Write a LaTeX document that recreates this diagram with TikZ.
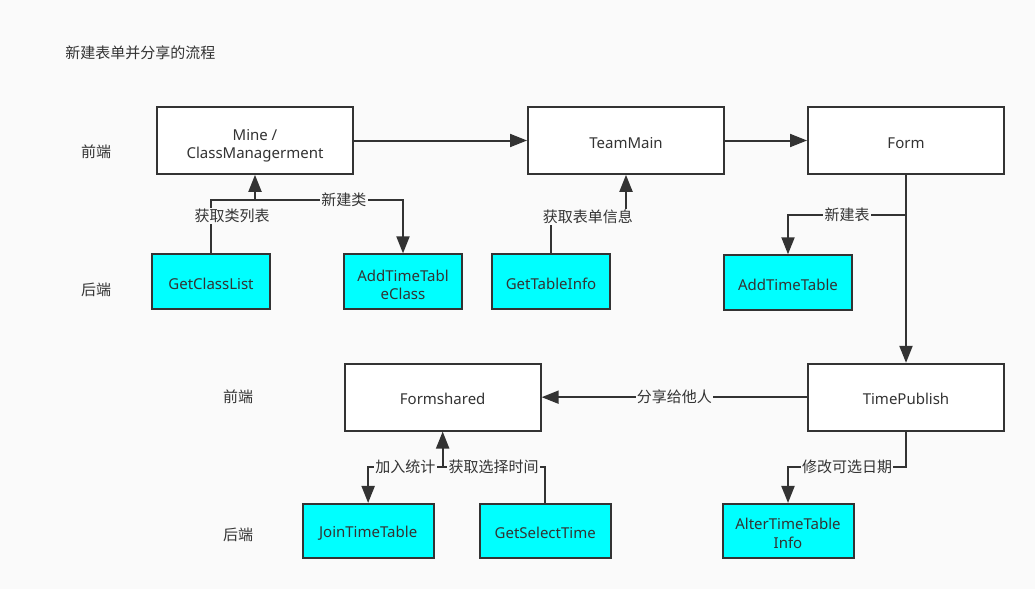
\documentclass[tikz,border=0pt]{standalone}
\usepackage{fontspec}
\setmainfont{Noto Sans}
\newfontfamily\cjk{Noto Sans CJK SC}
\usepackage{tikz}
\usetikzlibrary{arrows.meta, positioning}
\definecolor{pagebg}{RGB}{250,250,250}
\definecolor{linegray}{RGB}{51,51,51}
\definecolor{textgray}{RGB}{51,51,51}
\definecolor{apicyan}{RGB}{0,255,255}

\begin{document}
\begin{tikzpicture}[x=0.75pt, y=-0.75pt,
    font=\fontsize{11.25pt}{14pt}\selectfont,
    lift/.style={execute at begin node={\rule{0pt}{#1}}},
    box/.style={rectangle, draw=linegray, line width=1.5pt, fill=white, text=textgray, align=center, inner sep=0pt, minimum width=147pt, minimum height=50pt, lift=11.5pt},
    api/.style={box, fill=apicyan, minimum width=88.5pt, minimum height=41.25pt},
    wire/.style={draw=linegray, line width=1.5pt},
    link/.style={wire, -{Triangle[length=12.75pt, width=9.75pt]}},
    tag/.style={font=\cjk\fontsize{11.25pt}{14pt}\selectfont, fill=pagebg, text=textgray, inner sep=1pt},
    side/.style={font=\cjk\fontsize{11.25pt}{14pt}\selectfont, text=textgray, inner sep=0pt}]
    \fill[pagebg] (0,0) rectangle (1035,589);%background and page size
    \node (title) [side, anchor=west] at (65,53) {新建表单并分享的流程};%draws title
    \node (front1) [side] at (96,152) {前端};%upper front label
    \node (back1) [side] at (96,290) {后端};%upper back label
    \node (front2) [side] at (238,397) {前端};%lower front label
    \node (back2) [side] at (238,535) {后端};%lower back label
    \node (mine) [box, lift=30pt] at (255,140.5) {Mine /\\ClassManagerment};%draws Mine
    \node (team) [box, right=129.75pt of mine] {TeamMain};%draws TeamMain
    \node (form) [box, right=61.5pt of team] {Form};%draws Form
    \node (publish) [box, below=141pt of form] {TimePublish};%draws TimePublish
    \node (shared) [box, left=199pt of publish] {Formshared};%draws Formshared
    \node (getclass) [api, below=58.9pt of mine, xshift=-33pt] {GetClassList};%draws GetClassList
    \node (addclass) [api, lift=27pt, below=58.9pt of mine, xshift=111pt] {AddTimeTabl\\eClass};%draws AddTimeTableClass
    \node (gettable) [api, below=58.9pt of team, xshift=-56.25pt] {GetTableInfo};%draws GetTableInfo
    \node (addtable) [api, minimum width=96pt, below=59.6pt of form, xshift=-88.5pt] {AddTimeTable};%draws AddTimeTable
    \node (jointable) [api, minimum width=98.25pt, minimum height=40.5pt, below=53.6pt of shared, xshift=-55.9pt] {JoinTimeTable};%draws JoinTimeTable
    \node (getselect) [api, minimum width=98.25pt, minimum height=40.5pt, below=53.6pt of shared, xshift=76.9pt] {GetSelectTime};%draws GetSelectTime
    \node (altertable) [api, lift=26.3pt, minimum width=98.25pt, minimum height=40.5pt, below=53.6pt of publish, xshift=-88.5pt] {AlterTimeTable\\Info};%draws AlterTimeTableInfo
    \coordinate (c1) at (mine.south |- 0,200);%joint under Mine
    \coordinate (c2) at (team.south |- 0,217);%joint under TeamMain
    \coordinate (c3) at (form.south |- 0,215);%joint under Form
    \coordinate (c4) at (publish.south |- 0,467);%joint under TimePublish
    \coordinate (c5) at (shared.south |- 0,467);%joint under Formshared
    \draw[link] (mine) -- (team);%connects Mine to TeamMain
    \draw[link] (team) -- (form);%connects TeamMain to Form
    \draw[link] (form) -- (publish);%connects Form to TimePublish
    \draw[link] (publish) -- node[tag]{分享给他人} (shared);%connects TimePublish to Formshared
    \draw[link] (getclass) |- node[tag, pos=0.35, xshift=15.75pt]{获取类列表} (c1) -- (mine);%connects GetClassList to Mine
    \draw[link] (c1) -| node[tag, pos=0.3]{新建类} (addclass);%connects Mine to AddTimeTableClass
    \draw[link] (gettable) |- node[tag, pos=0.745]{获取表单信息} (c2) -- (team);%connects GetTableInfo to TeamMain
    \draw[link] (c3) -| node[tag, pos=0.25]{新建表} (addtable);%connects Form to AddTimeTable
    \draw[link] (publish) -- (c4) -| node[tag, pos=0.25]{修改可选日期} (altertable);%connects TimePublish to AlterTimeTableInfo
    \draw[link] (c5) -- (shared);%joint up to Formshared
    \draw[link] (c5) -| node[tag, pos=0.25]{加入统计} (jointable);%connects Formshared to JoinTimeTable
    \draw[wire] (getselect) |- node[tag, pos=0.752]{获取选择时间} (c5);%connects GetSelectTime to joint
  \end{tikzpicture}
\end{document}
